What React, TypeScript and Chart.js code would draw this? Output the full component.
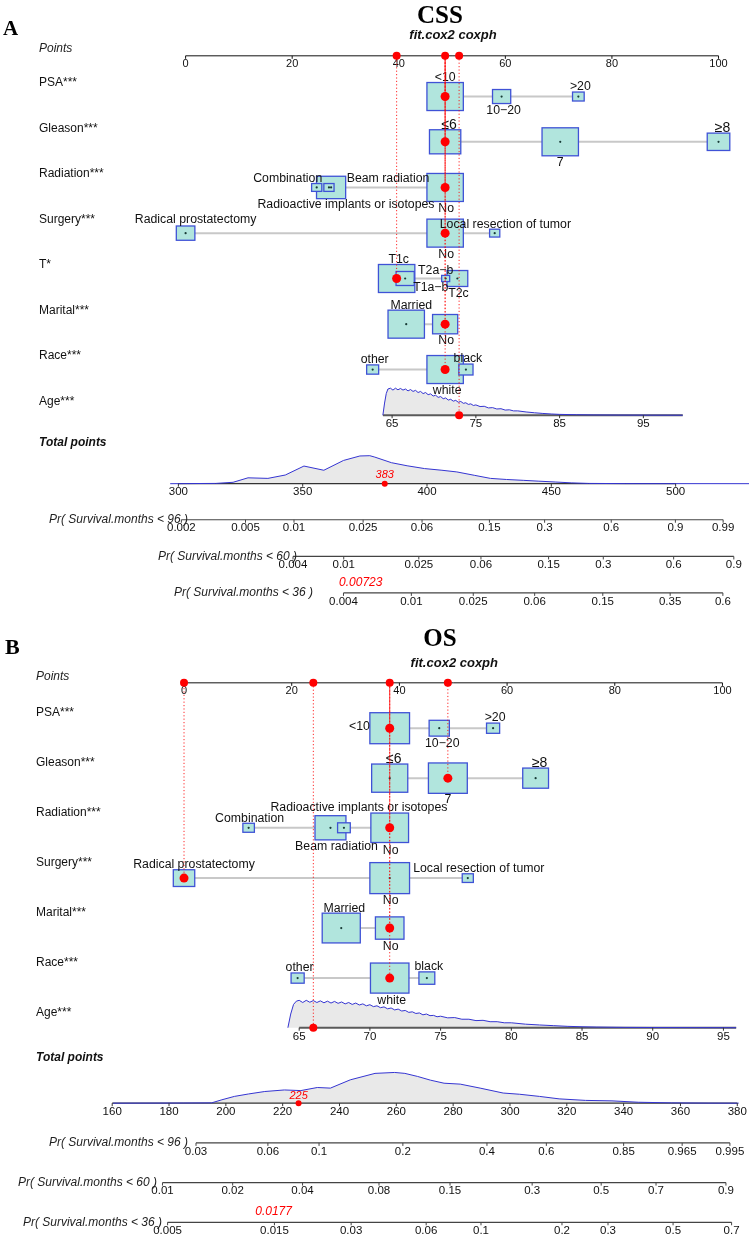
import { useEffect, useRef } from "react";
import { Chart, registerables } from "chart.js";

Chart.register(...registerables);

const W = 749;
const H = 1240;

// ======================= DATA : panel A (CSS) =======================
const cssTitle = "CSS";
const cssSubtitle = "fit.cox2 coxph";
const cssPointsTicks = [0, 20, 40, 60, 80, 100];
const cssRowNames = ["PSA***", "Gleason***", "Radiation***", "Surgery***", "T*", "Marital***", "Race***"];
const cssPsaLevels = ["<10", "10−20", ">20"];
const cssPsaPoints = [48.7, 59.3, 73.7];
const cssPsaSize = [1.0, 0.5, 0.32];
const cssGleasonLevels = ["≤6", "7", "≥8"];
const cssGleasonPoints = [48.7, 70.3, 100];
const cssGleasonSize = [0.86, 1.0, 0.62];
const cssRadiationLevels = ["No", "Combination", "Beam radiation", "Radioactive implants or isotopes"];
const cssRadiationPoints = [48.7, 24.6, 27.3, 26.9];
const cssRadiationSize = [1.0, 0.28, 0.8, 0.28];
const cssSurgeryLevels = ["Radical prostatectomy", "No", "Local resection of tumor"];
const cssSurgeryPoints = [0, 48.7, 58.0];
const cssSurgerySize = [0.51, 1.0, 0.28];
const cssTLevels = ["T1c", "T1a−b", "T2a−b", "T2c"];
const cssTPoints = [39.6, 41.2, 48.8, 51.0];
const cssTSize = [1.0, 0.5, 0.22, 0.57];
const cssMaritalLevels = ["Married", "No"];
const cssMaritalPoints = [41.4, 48.7];
const cssMaritalSize = [1.0, 0.69];
const cssRaceLevels = ["other", "white", "black"];
const cssRacePoints = [35.1, 48.7, 52.6];
const cssRaceSize = [0.33, 1.0, 0.39];
const cssSelected = [0, 0, 0, 1, 0, 1, 1];
const cssAgeTicks = [65, 75, 85, 95];
const cssAgeTickPoints = [38.75, 54.5, 70.25, 85.9];
const cssAgeRange = [63.9, 99.7];
const cssAgeSelected = 73;
const cssAgeDensAge = [63.9, 64.1, 64.3, 64.5, 64.8, 65.1, 65.4, 65.7, 66.0, 66.3, 66.6, 66.9, 67.2, 67.5, 67.8, 68.1, 68.4, 68.7, 69.0, 69.3, 69.6, 69.9, 70.2, 70.5, 70.8, 71.1, 71.4, 71.7, 72.0, 72.3, 72.6, 72.9, 73.2, 73.5, 73.8, 74.1, 74.4, 74.7, 75.0, 75.5, 76.0, 76.5, 77.0, 77.5, 78.0, 78.5, 79.0, 79.5, 80.0, 81, 82, 83, 84, 85, 87, 89, 92, 96, 99.7];
const cssAgeDensVal = [0, 0.45, 0.8, 0.97, 1.0, 0.93, 1.0, 0.94, 0.99, 0.93, 0.97, 0.9, 0.95, 0.88, 0.92, 0.84, 0.88, 0.8, 0.84, 0.76, 0.79, 0.71, 0.74, 0.66, 0.69, 0.61, 0.64, 0.56, 0.59, 0.52, 0.55, 0.48, 0.51, 0.44, 0.46, 0.4, 0.42, 0.36, 0.38, 0.32, 0.33, 0.27, 0.28, 0.23, 0.24, 0.19, 0.2, 0.16, 0.16, 0.12, 0.09, 0.065, 0.045, 0.03, 0.018, 0.01, 0.005, 0.002, 0];
const cssTotalTicks = [300, 350, 400, 450, 500];
const cssTotalRange = [300, 500];
const cssTotDensX = [296.7, 315, 322, 328, 336, 343, 350.5, 358.5, 366.4, 373, 377, 379, 385.7, 392, 399, 406, 412, 419, 425.5, 432, 438.7, 445, 451.8, 458, 465, 480, 539.7];
const cssTotDensY = [0, 0.01, 0.05, 0.21, 0.19, 0.31, 0.63, 0.48, 0.83, 0.99, 1.0, 0.95, 0.75, 0.64, 0.54, 0.48, 0.42, 0.3, 0.19, 0.15, 0.12, 0.09, 0.06, 0.03, 0.01, 0.003, 0];
const cssTotalSelected = 383;
const cssTotalSelectedLabel = "383";
const cssPrNames = ["Pr( Survival.months < 96 )", "Pr( Survival.months < 60 )", "Pr( Survival.months < 36 )"];
const cssPr96Ticks = ["0.002", "0.005", "0.01", "0.025", "0.06", "0.15", "0.3", "0.6", "0.9", "0.99"];
const cssPr96At = [301.2, 327.0, 346.5, 374.3, 398.0, 425.1, 447.3, 474.1, 499.9, 519.1];
const cssPr60Ticks = ["0.004", "0.01", "0.025", "0.06", "0.15", "0.3", "0.6", "0.9"];
const cssPr60At = [346.1, 366.5, 396.7, 421.7, 448.9, 470.9, 499.2, 523.4];
const cssPr36Ticks = ["0.004", "0.01", "0.025", "0.06", "0.15", "0.35", "0.6"];
const cssPr36At = [366.4, 393.7, 418.6, 443.3, 470.7, 497.8, 519.0];
const cssPr36Selected = "0.00723";

// ======================= DATA : panel B (OS) =======================
const osTitle = "OS";
const osSubtitle = "fit.cox2 coxph";
const osPointsTicks = [0, 20, 40, 60, 80, 100];
const osRowNames = ["PSA***", "Gleason***", "Radiation***", "Surgery***", "Marital***", "Race***"];
const osPsaLevels = ["<10", "10−20", ">20"];
const osPsaPoints = [38.2, 47.4, 57.4];
const osPsaSize = [1.0, 0.51, 0.33];
const osGleasonLevels = ["≤6", "7", "≥8"];
const osGleasonPoints = [38.2, 49.0, 65.3];
const osGleasonSize = [0.91, 0.98, 0.65];
const osRadiationLevels = ["No", "Combination", "Beam radiation", "Radioactive implants or isotopes"];
const osRadiationPoints = [38.2, 12.0, 27.2, 29.7];
const osRadiationSize = [0.95, 0.29, 0.78, 0.32];
const osSurgeryLevels = ["Radical prostatectomy", "No", "Local resection of tumor"];
const osSurgeryPoints = [0, 38.2, 52.7];
const osSurgerySize = [0.54, 1.0, 0.28];
const osMaritalLevels = ["Married", "No"];
const osMaritalPoints = [29.2, 38.2];
const osMaritalSize = [0.96, 0.72];
const osRaceLevels = ["other", "white", "black"];
const osRacePoints = [21.1, 38.2, 45.1];
const osRaceSize = [0.33, 0.97, 0.4];
const osSelected = [0, 1, 0, 0, 1, 1];
const osAgeTicks = [65, 70, 75, 80, 85, 90, 95];
const osAgeTickPoints = [21.39, 34.52, 47.65, 60.79, 73.92, 87.05, 100.18];
const osAgeRange = [65, 95.9];
const osAgeSelected = 66;
const osAgeDensAge = [64.2, 64.4, 64.6, 64.8, 65.0, 65.25, 65.5, 65.75, 66.0, 66.25, 66.5, 66.75, 67.0, 67.25, 67.5, 67.75, 68.0, 68.25, 68.5, 68.75, 69.0, 69.25, 69.5, 69.75, 70.0, 70.25, 70.5, 70.75, 71.0, 71.25, 71.5, 71.75, 72.0, 72.25, 72.5, 72.75, 73.0, 73.25, 73.5, 73.75, 74.0, 74.25, 74.5, 74.75, 75.0, 75.5, 76.0, 76.5, 77.0, 77.5, 78.0, 78.5, 79.0, 79.5, 80.0, 81, 82, 83, 84, 85, 86, 88, 90, 93, 95.9];
const osAgeDensVal = [0, 0.5, 0.85, 0.97, 1.0, 0.92, 1.0, 0.93, 0.99, 0.92, 0.98, 0.91, 0.97, 0.9, 0.96, 0.89, 0.94, 0.87, 0.92, 0.85, 0.9, 0.83, 0.87, 0.8, 0.84, 0.77, 0.8, 0.73, 0.76, 0.69, 0.72, 0.65, 0.68, 0.61, 0.63, 0.56, 0.58, 0.52, 0.54, 0.47, 0.5, 0.44, 0.45, 0.4, 0.42, 0.36, 0.37, 0.31, 0.31, 0.26, 0.27, 0.22, 0.22, 0.18, 0.18, 0.13, 0.1, 0.075, 0.05, 0.035, 0.025, 0.012, 0.007, 0.003, 0];
const osTotalTicks = [160, 180, 200, 220, 240, 260, 280, 300, 320, 340, 360, 380];
const osTotalRange = [160, 380];
const osTotDensX = [160.3, 185, 195, 198.6, 203, 208, 213.7, 220.6, 226.4, 232.2, 236.8, 243.8, 252.5, 259.4, 263, 267.5, 272, 276.8, 282.5, 289.5, 297.6, 303.4, 310.4, 317.3, 326.6, 335.9, 345.2, 356.8, 370, 380.5];
const osTotDensY = [0, 0.005, 0.01, 0.11, 0.22, 0.3, 0.38, 0.43, 0.41, 0.51, 0.49, 0.76, 0.97, 1.0, 0.97, 0.87, 0.75, 0.65, 0.62, 0.49, 0.33, 0.29, 0.22, 0.14, 0.09, 0.075, 0.03, 0.01, 0.002, 0];
const osTotalSelected = 225.6;
const osTotalSelectedLabel = "225";
const osPrNames = ["Pr( Survival.months < 96 )", "Pr( Survival.months < 60 )", "Pr( Survival.months < 36 )"];
const osPr96Ticks = ["0.03", "0.06", "0.1", "0.2", "0.4", "0.6", "0.85", "0.965", "0.995"];
const osPr96At = [189.5, 214.8, 232.8, 262.3, 291.9, 312.8, 340.0, 360.6, 377.4];
const osPr60Ticks = ["0.01", "0.02", "0.04", "0.08", "0.15", "0.3", "0.5", "0.7", "0.9"];
const osPr60At = [177.7, 202.4, 227.0, 253.9, 278.9, 307.8, 332.1, 351.4, 376.0];
const osPr36Ticks = ["0.005", "0.015", "0.03", "0.06", "0.1", "0.2", "0.3", "0.5", "0.7"];
const osPr36At = [179.5, 217.1, 244.1, 270.5, 289.8, 318.3, 334.5, 357.4, 378.0];
const osPr36Selected = "0.0177";

// ======================= assemble =======================
type Row = { name: string; levels: string[]; points: number[]; size: number[]; sel: number };

const cssRows: Row[] = [
  { name: cssRowNames[0], levels: cssPsaLevels, points: cssPsaPoints, size: cssPsaSize, sel: cssSelected[0] },
  { name: cssRowNames[1], levels: cssGleasonLevels, points: cssGleasonPoints, size: cssGleasonSize, sel: cssSelected[1] },
  { name: cssRowNames[2], levels: cssRadiationLevels, points: cssRadiationPoints, size: cssRadiationSize, sel: cssSelected[2] },
  { name: cssRowNames[3], levels: cssSurgeryLevels, points: cssSurgeryPoints, size: cssSurgerySize, sel: cssSelected[3] },
  { name: cssRowNames[4], levels: cssTLevels, points: cssTPoints, size: cssTSize, sel: cssSelected[4] },
  { name: cssRowNames[5], levels: cssMaritalLevels, points: cssMaritalPoints, size: cssMaritalSize, sel: cssSelected[5] },
  { name: cssRowNames[6], levels: cssRaceLevels, points: cssRacePoints, size: cssRaceSize, sel: cssSelected[6] },
];
const osRows: Row[] = [
  { name: osRowNames[0], levels: osPsaLevels, points: osPsaPoints, size: osPsaSize, sel: osSelected[0] },
  { name: osRowNames[1], levels: osGleasonLevels, points: osGleasonPoints, size: osGleasonSize, sel: osSelected[1] },
  { name: osRowNames[2], levels: osRadiationLevels, points: osRadiationPoints, size: osRadiationSize, sel: osSelected[2] },
  { name: osRowNames[3], levels: osSurgeryLevels, points: osSurgeryPoints, size: osSurgerySize, sel: osSelected[3] },
  { name: osRowNames[4], levels: osMaritalLevels, points: osMaritalPoints, size: osMaritalSize, sel: osSelected[4] },
  { name: osRowNames[5], levels: osRaceLevels, points: osRacePoints, size: osRaceSize, sel: osSelected[5] },
];

const panelA = {
  ptsScale: "ptsA", totScale: "totA",
  title: cssTitle, letter: "A", subtitle: cssSubtitle, pointsTicks: cssPointsTicks, rows: cssRows,
  ageTicks: cssAgeTicks, ageTickPoints: cssAgeTickPoints, ageRange: cssAgeRange, ageSel: cssAgeSelected,
  ageDensAge: cssAgeDensAge, ageDensVal: cssAgeDensVal,
  totalTicks: cssTotalTicks, totalRange: cssTotalRange, totDensX: cssTotDensX, totDensY: cssTotDensY,
  totalSel: cssTotalSelected, totalSelLabel: cssTotalSelectedLabel,
  prNames: cssPrNames, prTicks: [cssPr96Ticks, cssPr60Ticks, cssPr36Ticks], prAt: [cssPr96At, cssPr60At, cssPr36At],
  prSelLabel: cssPr36Selected,
};
const panelB = {
  ptsScale: "ptsB", totScale: "totB",
  title: osTitle, letter: "B", subtitle: osSubtitle, pointsTicks: osPointsTicks, rows: osRows,
  ageTicks: osAgeTicks, ageTickPoints: osAgeTickPoints, ageRange: osAgeRange, ageSel: osAgeSelected,
  ageDensAge: osAgeDensAge, ageDensVal: osAgeDensVal,
  totalTicks: osTotalTicks, totalRange: osTotalRange, totDensX: osTotDensX, totDensY: osTotDensY,
  totalSel: osTotalSelected, totalSelLabel: osTotalSelectedLabel,
  prNames: osPrNames, prTicks: [osPr96Ticks, osPr60Ticks, osPr36Ticks], prAt: [osPr96At, osPr60At, osPr36At],
  prSelLabel: osPr36Selected,
};

// ======================= LAYOUT (pixels / styles) =======================
const layoutA = {
  ptsPx: [183.3, 722.7],
  totPx: [[300, 176], [500, 679.3]],
  letterX: 3, letterY: 31, letterSize: 21,
  titleX: 440, titleY: 18.3, subX: 453, subY: 31,
  labelX: 39, pointsLabelY: 44.3, pointsY: 51.7,
  rowY: [92.7, 138.3, 184.3, 230.3, 276, 322, 367.7], rowLabelDy: -13.5,
  ageY: 413.7, ageLabelDy: -13.7, totalLabelY: 441.7, totalY: 482.7,
  prY: [519, 556, 592.7], prLabelRight: [188, 297, 313],
  boxH: 28, boxAspect: 1.3, ageDensH: 27, totDensH: 28,
  totalSelDy: -9, prSelDx: -24, prSelDy: -10,
  levelLabels: [
    [["a", 0, 0], ["b", 2, 0], ["a", 2, 0]],
    [["a", 4, 0], ["b", 0, 0], ["a", 4, 0]],
    [["b", 1, 0], ["a", -29, 0], ["a", 57, 7], ["b", 17, 6.5]],
    [["a", 10, -1.6], ["b", 1, 0], ["a", 10.7, 0]],
    [["a", 2, 0], ["b", 25.6, -5], ["a", -10, 0], ["b", 1, 0]],
    [["a", 5, 0], ["b", 1, 0]],
    [["a", 2, 0], ["b", 2, 0], ["a", 2, 0]],
  ],
};
const layoutB = {
  ptsPx: [181.7, 726.7],
  totPx: [[160, 109], [380, 741.7]],
  letterX: 5, letterY: 654.3, letterSize: 22,
  titleX: 440, titleY: 646.5, subX: 454.3, subY: 663.3,
  labelX: 36, pointsLabelY: 676.7, pointsY: 683.3,
  rowY: [729, 779.3, 829.3, 880, 930.3, 980.7], rowLabelDy: -15.2,
  ageY: 1030.7, ageLabelDy: -14.7, totalLabelY: 1061, totalY: 1106.7,
  prY: [1146.7, 1186.7, 1226.7], prLabelRight: [188, 157, 162],
  boxH: 31, boxAspect: 1.28, ageDensH: 27.4, totDensH: 30.7,
  totalSelDy: -7.7, prSelDx: -25, prSelDy: -10.7,
  levelLabels: [
    [["l", 0, -2], ["b", 3, 0], ["a", 2, 0]],
    [["a", 4, 0], ["b", 0, -1], ["a", 4, 0]],
    [["b", 1, 1], ["a", 1, 0], ["b", 6, 0], ["a", 15, -10]],
    [["a", 10, 0], ["b", 1, 0], ["a", 11, 0]],
    [["a", 3, 0], ["b", 1, 0]],
    [["a", 2, 0], ["b", 2, 0], ["a", 2, 0]],
  ],
};

const SANS = '"Liberation Sans", Arial, sans-serif';
const SERIF = '"Liberation Serif", "Times New Roman", serif';
const BOX_FILL = "#b1e5dd";
const BOX_EDGE = "#3f52d6";
const DENS_FILL = "#e9e9e9";
const DENS_LINE = "#3535d2";
const RED = "#ff0000";

function agePointsFn(P: any) {
  const a0 = P.ageTicks[0], a1 = P.ageTicks[P.ageTicks.length - 1];
  const p0 = P.ageTickPoints[0], p1 = P.ageTickPoints[P.ageTickPoints.length - 1];
  return (a: number) => p0 + ((a - a0) * (p1 - p0)) / (a1 - a0);
}

function scaleRange(v0: number, px0: number, v1: number, px1: number) {
  const k = (px1 - px0) / (v1 - v0);
  const min = v0 - px0 / k;
  return { min, max: min + W / k };
}

function text(ctx: CanvasRenderingContext2D, s: string, x: number, y: number, font: string, align: CanvasTextAlign = "center", color = "#111", base: CanvasTextBaseline = "middle") {
  ctx.font = font;
  ctx.fillStyle = color;
  ctx.textAlign = align;
  ctx.textBaseline = base;
  ctx.fillText(s, x, y);
}

function hline(ctx: CanvasRenderingContext2D, x0: number, x1: number, y: number, color: string, lw: number) {
  ctx.beginPath();
  ctx.moveTo(x0, y);
  ctx.lineTo(x1, y);
  ctx.strokeStyle = color;
  ctx.lineWidth = lw;
  ctx.stroke();
}

function tick(ctx: CanvasRenderingContext2D, x: number, y: number, color: string) {
  ctx.beginPath();
  ctx.moveTo(x, y);
  ctx.lineTo(x, y + 3);
  ctx.strokeStyle = color;
  ctx.lineWidth = 1;
  ctx.stroke();
}

function density(ctx: CanvasRenderingContext2D, xs: number[], hs: number[], baseY: number, axisDraw: () => void) {
  const n = Math.min(xs.length, hs.length);
  ctx.beginPath();
  ctx.moveTo(xs[0], baseY);
  for (let i = 0; i < n; i++) ctx.lineTo(xs[i], baseY - hs[i]);
  ctx.lineTo(xs[n - 1], baseY);
  ctx.closePath();
  ctx.fillStyle = DENS_FILL;
  ctx.fill();
  axisDraw();
  ctx.beginPath();
  for (let i = 0; i < n; i++) {
    if (i === 0) ctx.moveTo(xs[i], baseY - hs[i]);
    else ctx.lineTo(xs[i], baseY - hs[i]);
  }
  ctx.strokeStyle = DENS_LINE;
  ctx.lineWidth = 1;
  ctx.stroke();
}

function levelFont(lab: string) {
  return /[≤≥]/.test(lab) ? `14px ${SANS}` : `12.3px ${SANS}`;
}

function drawPanel(chart: any, P: any, L: any) {
  const ctx: CanvasRenderingContext2D = chart.ctx;
  const sx = chart.scales[P.ptsScale];
  const st = chart.scales[P.totScale];
  const sy = chart.scales.y;
  const X = (v: number) => sx.getPixelForValue(v);
  const T = (v: number) => st.getPixelForValue(v);
  const Y = (v: number) => sy.getPixelForValue(v);
  const agePts = agePointsFn(P);

  // titles
  text(ctx, P.letter, L.letterX, Y(L.letterY), `bold ${L.letterSize}px ${SERIF}`, "left", "#000", "alphabetic");
  text(ctx, P.title, L.titleX, Y(L.titleY), `bold 25px ${SERIF}`, "center", "#000", "alphabetic");
  text(ctx, P.subtitle, L.subX, Y(L.subY), `italic bold 13px ${SANS}`, "center", "#111");

  // points axis
  const py = Y(L.pointsY);
  text(ctx, "Points", L.labelX, Y(L.pointsLabelY), `italic 12px ${SANS}`, "left", "#222");
  hline(ctx, X(P.pointsTicks[0]), X(P.pointsTicks[P.pointsTicks.length - 1]), py, "#111", 1);
  P.pointsTicks.forEach((t: number) => {
    tick(ctx, X(t), py, "#111");
    text(ctx, String(t), X(t), py + 8.5, `11px ${SANS}`, "center", "#111");
  });

  // variable rows
  P.rows.forEach((row: Row, r: number) => {
    const y = Y(L.rowY[r]);
    text(ctx, row.name, L.labelX, y + L.rowLabelDy, `12px ${SANS}`, "left", "#111");
    const xs = row.points.map(X);
    hline(ctx, Math.min(...xs), Math.max(...xs), y, "#c8c8c8", 2);
    const order = row.points.map((_, i) => i).sort((a, b) => row.size[b] - row.size[a]);
    const geo = row.points.map((p, i) => {
      const h = row.size[i] * L.boxH;
      const w = h * L.boxAspect;
      return { cx: X(p), h, w };
    });
    order.forEach((i) => {
      const g = geo[i];
      ctx.fillStyle = BOX_FILL;
      ctx.fillRect(g.cx - g.w / 2, y - g.h / 2, g.w, g.h);
      ctx.strokeStyle = BOX_EDGE;
      ctx.lineWidth = 1.3;
      ctx.strokeRect(g.cx - g.w / 2, y - g.h / 2, g.w, g.h);
    });
    geo.forEach((g) => {
      ctx.beginPath();
      ctx.arc(g.cx, y, 1.1, 0, Math.PI * 2);
      ctx.fillStyle = "#173a35";
      ctx.fill();
    });
    row.levels.forEach((lab, i) => {
      const g = geo[i];
      const spec = L.levelLabels[r][i];
      const pos = spec[0], dx = spec[1], dy = spec[2];
      const f = levelFont(lab);
      if (pos === "a") text(ctx, lab, g.cx + dx, y - g.h / 2 - 5 + dy, f, "center", "#111");
      else if (pos === "b") text(ctx, lab, g.cx + dx, y + g.h / 2 + 7 + dy, f, "center", "#111");
      else text(ctx, lab, g.cx - g.w / 2 + dx, y + dy, f, "right", "#111");
    });
  });

  // age row
  const ay = Y(L.ageY);
  text(ctx, "Age***", L.labelX, ay + L.ageLabelDy, `12px ${SANS}`, "left", "#111");
  density(
    ctx,
    P.ageDensAge.map((a: number) => X(agePts(a))),
    P.ageDensVal.map((v: number) => v * L.ageDensH),
    ay,
    () => hline(ctx, X(agePts(P.ageRange[0])), X(agePts(P.ageRange[1])), ay, "#5a5a5a", 2)
  );
  P.ageTicks.forEach((t: number) => {
    tick(ctx, X(agePts(t)), ay, "#333");
    text(ctx, String(t), X(agePts(t)), ay + 9, `11.5px ${SANS}`, "center", "#111");
  });

  // red dotted guide lines
  ctx.save();
  ctx.strokeStyle = "rgba(255,0,0,0.85)";
  ctx.lineWidth = 1;
  ctx.setLineDash([1.2, 2.2]);
  P.rows.forEach((row: Row, r: number) => {
    ctx.lineDashOffset = r * 0.55;
    const x = X(row.points[row.sel]);
    ctx.beginPath();
    ctx.moveTo(x, py);
    ctx.lineTo(x, Y(L.rowY[r]));
    ctx.stroke();
  });
  ctx.lineDashOffset = 0;
  const axp = X(agePts(P.ageSel));
  ctx.beginPath();
  ctx.moveTo(axp, py);
  ctx.lineTo(axp, ay);
  ctx.stroke();
  ctx.restore();

  // total points
  const ty = Y(L.totalY);
  text(ctx, "Total points", L.labelX, Y(L.totalLabelY), `italic bold 12px ${SANS}`, "left", "#111");
  density(
    ctx,
    P.totDensX.map(T),
    P.totDensY.map((v: number) => v * L.totDensH),
    ty,
    () => hline(ctx, T(P.totalRange[0]), T(P.totalRange[1]), ty, "#333", 1.2)
  );
  P.totalTicks.forEach((t: number) => {
    tick(ctx, T(t), ty, "#333");
    text(ctx, String(t), T(t), ty + 8.5, `11.5px ${SANS}`, "center", "#111");
  });
  text(ctx, P.totalSelLabel, T(P.totalSel), ty + L.totalSelDy, `italic 11px ${SANS}`, "center", RED);

  // probability axes
  P.prNames.forEach((name: string, k: number) => {
    const y = Y(L.prY[k]);
    const at: number[] = P.prAt[k];
    const labs: string[] = P.prTicks[k];
    hline(ctx, T(at[0]), T(at[at.length - 1]), y, "#444", 1.2);
    at.forEach((v, i) => {
      tick(ctx, T(v), y, "#444");
      text(ctx, labs[i], T(v), y + 8.5, `11.5px ${SANS}`, "center", "#111");
    });
    text(ctx, name, L.prLabelRight[k], y, `italic 12px ${SANS}`, "right", "#222");
  });
  const lastY = Y(L.prY[L.prY.length - 1]);
  text(ctx, P.prSelLabel, T(P.totalSel) + L.prSelDx, lastY + L.prSelDy, `italic 12px ${SANS}`, "center", RED);
}

const nomogramPlugin = {
  id: "nomogramDraw",
  beforeDatasetsDraw(chart: any) {
    const ctx = chart.ctx;
    ctx.save();
    ctx.fillStyle = "#ffffff";
    ctx.fillRect(0, 0, W, H);
    drawPanel(chart, panelA, layoutA);
    drawPanel(chart, panelB, layoutB);
    ctx.restore();
  },
};

function redDotDatasets(P: any, L: any) {
  const agePts = agePointsFn(P);
  const selPts: number[] = P.rows.map((row: Row) => row.points[row.sel]);
  const axisVals = Array.from(new Set([...selPts, agePts(P.ageSel)]));
  const axisData = axisVals.map((v) => ({ x: v, y: L.pointsY }));
  const rowData = P.rows.map((row: Row, r: number) => ({ x: row.points[row.sel], y: L.rowY[r] }));
  const ageData = [{ x: agePts(P.ageSel), y: L.ageY }];
  return [
    {
      data: [...axisData, ...ageData],
      xAxisID: P.ptsScale, yAxisID: "y",
      backgroundColor: RED, borderWidth: 0, pointRadius: 4,
    },
    {
      data: rowData,
      xAxisID: P.ptsScale, yAxisID: "y",
      backgroundColor: RED, borderWidth: 0, pointRadius: 4.5,
    },
    {
      data: [{ x: P.totalSel, y: L.totalY }],
      xAxisID: P.totScale, yAxisID: "y",
      backgroundColor: RED, borderWidth: 0, pointRadius: 3,
    },
  ];
}

export default function App() {
  const ref = useRef<HTMLCanvasElement>(null);
  useEffect(() => {
    const canvas = ref.current;
    if (!canvas) return;
    const rA = scaleRange(0, layoutA.ptsPx[0], 100, layoutA.ptsPx[1]);
    const rB = scaleRange(0, layoutB.ptsPx[0], 100, layoutB.ptsPx[1]);
    const tA = scaleRange(layoutA.totPx[0][0], layoutA.totPx[0][1], layoutA.totPx[1][0], layoutA.totPx[1][1]);
    const tB = scaleRange(layoutB.totPx[0][0], layoutB.totPx[0][1], layoutB.totPx[1][0], layoutB.totPx[1][1]);
    const hidden = { type: "linear", display: false, bounds: "data" };
    const chart = new Chart(canvas, {
      type: "scatter",
      data: { datasets: [...redDotDatasets(panelA, layoutA), ...redDotDatasets(panelB, layoutB)] as any },
      options: {
        responsive: false,
        animation: false,
        events: [],
        layout: { padding: 0 },
        plugins: { legend: { display: false }, tooltip: { enabled: false }, title: { display: false } },
        scales: {
          ptsA: { ...hidden, axis: "x", min: rA.min, max: rA.max },
          ptsB: { ...hidden, axis: "x", min: rB.min, max: rB.max },
          totA: { ...hidden, axis: "x", min: tA.min, max: tA.max },
          totB: { ...hidden, axis: "x", min: tB.min, max: tB.max },
          y: { ...hidden, axis: "y", min: 0, max: H, reverse: true },
        } as any,
      },
      plugins: [nomogramPlugin],
    });
    return () => chart.destroy();
  }, []);
  return (
    <canvas
      ref={ref}
      width={W}
      height={H}
      style={{ position: "absolute", left: 0, top: 0, width: W, height: H, display: "block" }}
    />
  );
}
